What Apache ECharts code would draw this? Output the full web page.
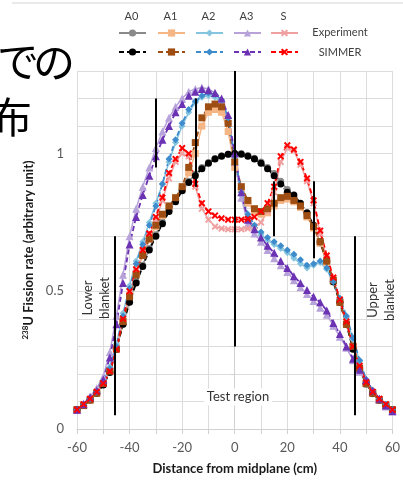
<!DOCTYPE html>
<html><head><meta charset="utf-8">
<script src="https://cdn.jsdelivr.net/npm/echarts@6/dist/echarts.min.js"></script>
<style>html,body{margin:0;padding:0;background:#fff}#c{width:403px;height:480px}</style>
</head><body><div id="c"></div>
<script>
// Distance from midplane (cm)
const xs = [-60,-57.5,-55,-52.5,-50,-47.5,-45,-42.5,-40,-37.5,-35,-32.5,-30,-27.5,-25,-22.5,-20,-17.5,-15,-12.5,-10,-7.5,-5,-2.5,0,2.5,5,7.5,10,12.5,15,17.5,20,22.5,25,27.5,30,32.5,35,37.5,40,42.5,45,47.5,50,52.5,55,57.5,60];

// Experiment
const a0Exp = [0.07,0.087,0.107,0.132,0.165,0.21,0.29,0.38,0.465,0.535,0.595,0.655,0.705,0.75,0.795,0.83,0.87,0.9,0.925,0.95,0.968,0.982,0.992,0.998,1.0,1.0,0.993,0.983,0.97,0.95,0.928,0.9,0.87,0.84,0.81,0.775,0.735,0.675,0.605,0.535,0.46,0.38,0.295,0.215,0.162,0.128,0.104,0.085,0.07];
const a1Exp = [0.07,0.086,0.106,0.131,0.165,0.21,0.295,0.395,0.485,0.565,0.63,0.69,0.735,0.775,0.805,0.835,0.87,0.93,1.0,1.1,1.15,1.16,1.15,1.08,0.95,0.87,0.82,0.79,0.78,0.785,0.81,0.83,0.835,0.825,0.805,0.77,0.73,0.675,0.605,0.535,0.46,0.38,0.3,0.22,0.165,0.13,0.105,0.085,0.07];
const a2Exp = [0.07,0.09,0.11,0.137,0.172,0.225,0.31,0.42,0.52,0.61,0.68,0.75,0.82,0.89,0.97,1.04,1.1,1.15,1.185,1.205,1.21,1.205,1.185,1.12,0.98,0.85,0.77,0.73,0.705,0.685,0.67,0.655,0.64,0.62,0.6,0.585,0.595,0.605,0.58,0.53,0.47,0.405,0.325,0.245,0.178,0.138,0.108,0.088,0.07];
const a3Exp = [0.07,0.092,0.118,0.148,0.19,0.28,0.41,0.56,0.7,0.8,0.88,0.95,1.02,1.08,1.13,1.17,1.2,1.225,1.235,1.24,1.235,1.22,1.19,1.12,0.97,0.84,0.745,0.71,0.68,0.65,0.62,0.595,0.57,0.54,0.515,0.49,0.465,0.44,0.415,0.375,0.335,0.295,0.25,0.208,0.17,0.135,0.105,0.082,0.063];
const sExp = [0.07,0.087,0.107,0.132,0.165,0.21,0.29,0.395,0.49,0.57,0.64,0.7,0.76,0.83,0.91,0.97,1.0,0.99,0.88,0.8,0.76,0.735,0.728,0.725,0.725,0.725,0.728,0.735,0.75,0.79,0.86,0.97,1.02,1.01,0.96,0.9,0.82,0.71,0.62,0.545,0.465,0.385,0.3,0.225,0.168,0.132,0.106,0.087,0.07];

// SIMMER
const a0Sim = [0.07,0.085,0.105,0.13,0.16,0.205,0.29,0.38,0.46,0.53,0.59,0.65,0.7,0.745,0.79,0.825,0.865,0.895,0.92,0.945,0.965,0.98,0.99,0.998,1.0,0.998,0.99,0.98,0.965,0.945,0.92,0.89,0.86,0.85,0.82,0.785,0.74,0.68,0.61,0.535,0.46,0.38,0.29,0.22,0.165,0.13,0.105,0.085,0.07];
const a1Sim = [0.07,0.085,0.105,0.13,0.165,0.21,0.29,0.39,0.48,0.56,0.63,0.69,0.74,0.78,0.81,0.84,0.88,0.95,1.04,1.13,1.17,1.18,1.17,1.11,0.97,0.88,0.83,0.8,0.79,0.8,0.82,0.84,0.845,0.83,0.81,0.775,0.735,0.68,0.61,0.54,0.46,0.38,0.3,0.22,0.165,0.13,0.105,0.085,0.07];
const a2Sim = [0.07,0.09,0.11,0.135,0.17,0.22,0.3,0.41,0.51,0.6,0.67,0.74,0.81,0.89,0.98,1.05,1.11,1.16,1.19,1.21,1.22,1.215,1.195,1.13,0.99,0.86,0.78,0.74,0.715,0.695,0.68,0.665,0.65,0.635,0.615,0.595,0.6,0.61,0.585,0.535,0.475,0.41,0.33,0.25,0.18,0.14,0.11,0.09,0.07];
const a3Sim = [0.07,0.09,0.115,0.14,0.18,0.26,0.38,0.53,0.67,0.77,0.85,0.92,0.99,1.05,1.1,1.15,1.18,1.21,1.225,1.235,1.23,1.22,1.2,1.14,1.0,0.86,0.76,0.725,0.695,0.665,0.64,0.61,0.585,0.555,0.53,0.505,0.48,0.46,0.43,0.385,0.345,0.3,0.255,0.215,0.178,0.14,0.11,0.085,0.065];
const sSim = [0.07,0.09,0.11,0.135,0.165,0.21,0.29,0.4,0.5,0.58,0.65,0.71,0.77,0.84,0.93,0.98,1.02,1.0,0.89,0.82,0.79,0.775,0.765,0.76,0.76,0.76,0.763,0.77,0.79,0.82,0.88,0.99,1.03,1.015,0.97,0.91,0.83,0.72,0.63,0.55,0.47,0.39,0.3,0.23,0.17,0.135,0.11,0.09,0.07];

// Region boundary lines (x position, lower and upper extent)
const regionX = [-45.5, -30, -15, 0, 15, 30, 45.5];
const regionLow = [0.05, 0.95, 0.88, 0.3, 0.7, 0.62, 0.05];
const regionHigh = [0.7, 1.2, 1.2, 1.3, 0.9, 0.9, 0.7];

const xTickLabels = [-60, -40, -20, 0, 20, 40, 60];
const yTickLabels = [0, 0.5, 1];
const colHeaders = ['A0', 'A1', 'A2', 'A3', 'S'];

const crossPath = 'path://M2,0 L5,3 L8,0 L10,2 L7,5 L10,8 L8,10 L5,7 L2,10 L0,8 L3,5 L0,2 Z';

const defs = [
  {name:'A0 Experiment', data:a0Exp, color:'#8a8a8a', symbol:'circle', dashed:false, col:0, row:0},
  {name:'A1 Experiment', data:a1Exp, color:'#f5b584', symbol:'rect', dashed:false, col:1, row:0},
  {name:'A2 Experiment', data:a2Exp, color:'#86c5df', symbol:'diamond', dashed:false, col:2, row:0},
  {name:'A3 Experiment', data:a3Exp, color:'#b7a3da', symbol:'triangle', dashed:false, col:3, row:0},
  {name:'S Experiment', data:sExp, color:'#f0a0a0', symbol:crossPath, dashed:false, col:4, row:0},
  {name:'A0 SIMMER', data:a0Sim, color:'#000000', symbol:'circle', dashed:true, col:0, row:1},
  {name:'A1 SIMMER', data:a1Sim, color:'#9e4e12', symbol:'rect', dashed:true, col:1, row:1},
  {name:'A2 SIMMER', data:a2Sim, color:'#3f8ccc', symbol:'diamond', dashed:true, col:2, row:1},
  {name:'A3 SIMMER', data:a3Sim, color:'#6c32b4', symbol:'triangle', dashed:true, col:3, row:1},
  {name:'S SIMMER', data:sSim, color:'#ff0000', symbol:crossPath, dashed:true, col:4, row:1}
];

const legendLeft = [118, 157, 195, 233, 270];
const legendTop = [28.5, 47.5];

const series = defs.map(d => ({
  name: d.name,
  type: 'line',
  data: xs.map((x, i) => [x, d.data[i]]),
  symbol: d.symbol,
  symbolSize: d.symbol === 'triangle' ? 8 : 7,
  showSymbol: true,
  smooth: false,
  animation: false,
  color: d.color,
  itemStyle: {color: d.color},
  lineStyle: {color: d.color, width: d.dashed ? 1.8 : 1.5, type: d.dashed ? [5, 3] : 'solid'},
  emphasis: {disabled: true}
}));

series.push({
  name: 'regions',
  type: 'line',
  data: [],
  animation: false,
  silent: true,
  markLine: {
    silent: true,
    symbol: ['none', 'none'],
    label: {show: false},
    lineStyle: {color: '#000', width: 2, type: 'solid'},
    data: regionX.map((x, i) => [{coord: [x, regionLow[i]]}, {coord: [x, regionHigh[i]]}])
  }
});

const txt = (text, x, y, size, extra) => Object.assign({
  type: 'text', x: x, y: y, z: 10,
  style: Object.assign({text: text, fontSize: size, fontFamily: 'Lato', fill: '#404040', align: 'center', verticalAlign: 'middle'}, extra || {})
});
const jp = {fontFamily: 'Noto Sans CJK JP', fill: '#000'};

const chart = echarts.init(document.getElementById('c'), null, {renderer: 'canvas'});
chart.setOption({
  backgroundColor: '#fff',
  animation: false,
  textStyle: {fontFamily: 'Lato'},
  grid: {left: 77, right: 4, top: 71, bottom: 49, containLabel: false},
  legend: defs.map(d => ({
    data: [d.name],
    left: legendLeft[d.col],
    top: legendTop[d.row],
    padding: 0,
    itemWidth: 27,
    itemHeight: 9,
    selectedMode: false,
    formatter: () => ''
  })),
  xAxis: {
    type: 'value', min: -60, max: 60, interval: 10,
    name: 'Distance from midplane (cm)', nameLocation: 'middle', nameGap: 33,
    nameTextStyle: {fontFamily: 'Lato', fontWeight: 'bold', fontSize: 13, color: '#1a1a1a'},
    axisLine: {show: true, onZero: false, lineStyle: {color: '#d0d0d0'}},
    axisTick: {show: true, length: 5, lineStyle: {color: '#d0d0d0'}},
    axisLabel: {
      margin: 12, fontSize: 13, color: '#595959', fontFamily: 'Lato',
      formatter: v => xTickLabels.includes(Math.round(v)) ? String(Math.round(v)) : ''
    },
    splitLine: {show: true, lineStyle: {color: '#dcdcdc', width: 1}}
  },
  yAxis: {
    type: 'value', min: 0, max: 1.3, interval: 0.1,
    name: '{sup|238}{t|U Fission rate (arbitrary unit)}', nameLocation: 'middle', nameGap: 38,
    nameTextStyle: {
      rich: {
        sup: {fontFamily: 'Lato', fontWeight: 'bold', fontSize: 8, color: '#1a1a1a', verticalAlign: 'top', padding: [0, 0, 6, 0]},
        t: {fontFamily: 'Lato', fontWeight: 'bold', fontSize: 13, color: '#1a1a1a'}
      }
    },
    axisLine: {show: true, lineStyle: {color: '#d0d0d0'}},
    axisTick: {show: true, length: 4, lineStyle: {color: '#d0d0d0'}},
    axisLabel: {
      margin: 13, fontSize: 13, color: '#595959', fontFamily: 'Lato',
      formatter: v => {
        const r = Math.round(v * 10) / 10;
        return yTickLabels.includes(r) ? String(r) : '';
      }
    },
    splitLine: {show: true, lineStyle: {color: '#dcdcdc', width: 1}}
  },
  graphic: [
    {type: 'line', shape: {x1: 12, y1: 3, x2: 403, y2: 3}, style: {stroke: '#d4d4d4', lineWidth: 1}, silent: true},
    txt('で', 18, 61, 42, jp),
    txt('の', 54, 62, 42, jp),
    txt('布', 11, 117, 42, jp),
    ...colHeaders.map((h, i) => txt(h, legendLeft[i] + 13.5, 16, 11)),
    txt('Experiment', 340, 32, 11),
    txt('SIMMER', 340, 52, 11),
    txt('Test region', 238, 397, 13, {fill: '#333', backgroundColor: '#fff', padding: [2, 3]}),
    Object.assign(txt('Lower\nblanket', 96, 298, 13, {fill: '#333', lineHeight: 17}), {rotation: Math.PI / 2}),
    Object.assign(txt('Upper\nblanket', 381, 300, 13, {fill: '#333', lineHeight: 17}), {rotation: Math.PI / 2})
  ],
  series: series
});
</script></body></html>
